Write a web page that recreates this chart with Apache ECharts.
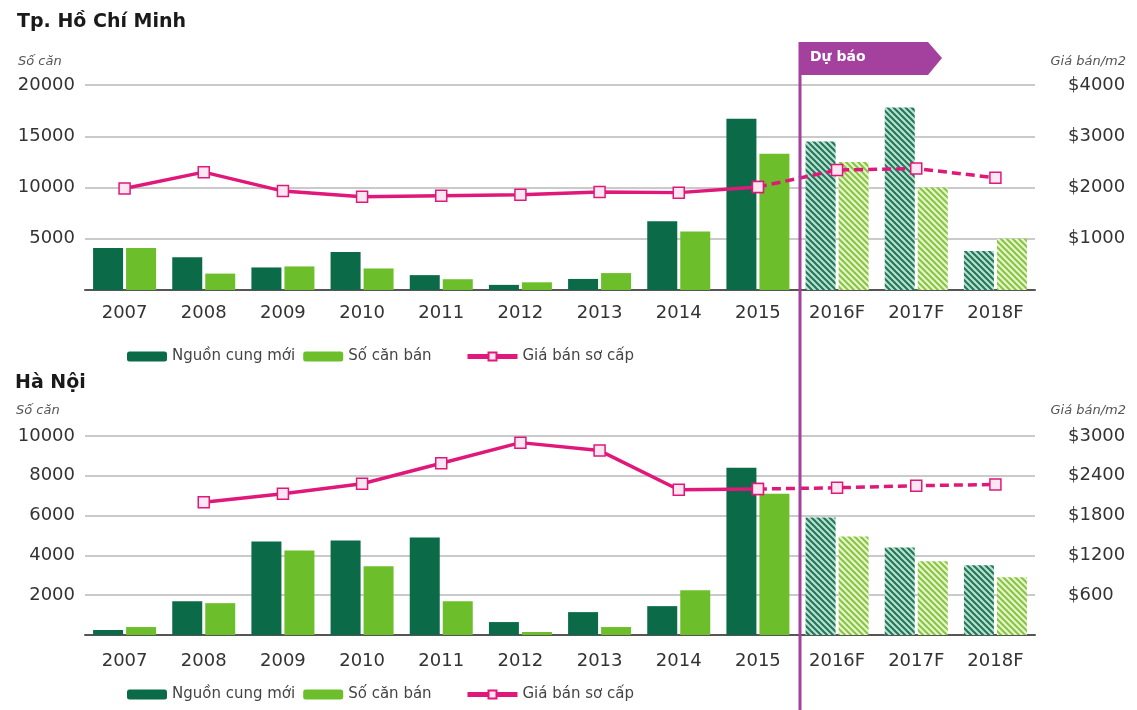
<!DOCTYPE html>
<html>
<head>
<meta charset="utf-8">
<script src="https://cdn.jsdelivr.net/npm/echarts@6/dist/echarts.min.js"></script>
<style>
  html, body { margin: 0; padding: 0; background: #fff; }
  #chart { width: 1137px; height: 710px; }
</style>
</head>
<body>
<div id="chart"></div>
<script>
// data
var years = ['2007', '2008', '2009', '2010', '2011', '2012', '2013', '2014', '2015', '2016F', '2017F', '2018F'];
var firstForecast = 9; // 2016F

var hcmSupply = [4100, 3200, 2200, 3700, 1450, 500, 1080, 6700, 16700, 14500, 17800, 3800];
var hcmSold   = [4100, 1600, 2300, 2100, 1050, 750, 1650, 5700, 13300, 12500, 10000, 5000];
var hcmPrice  = [1980, 2300, 1930, 1820, 1840, 1860, 1910, 1900, 2010, 2340, 2370, 2190];

var hnSupply = [250, 1700, 4700, 4750, 4900, 650, 1150, 1450, 8400, 5900, 4400, 3500];
var hnSold   = [400, 1600, 4250, 3450, 1700, 150, 400, 2250, 7100, 4950, 3700, 2900];
var hnPrice  = [null, 2000, 2130, 2280, 2590, 2900, 2780, 2190, 2200, 2220, 2250, 2270];

var hcmLeftTicks = [0, 20000, 5000];   // min, max, interval
var hcmRightTicks = [0, 4000, 1000];
var hnLeftTicks = [0, 10000, 2000];
var hnRightTicks = [0, 3000, 600];

var DARK = '#0b6a47', LIGHT = '#6cbf2b', PINK = '#e0187a', PURPLE = '#a4409e';
var FONT = '"DejaVu Sans", "Liberation Sans", sans-serif';

// striped fill for forecast bars
function stripes(bg, fg) {
  var c = document.createElement('canvas');
  c.width = 6; c.height = 6;
  var g = c.getContext('2d');
  g.fillStyle = bg;
  g.fillRect(0, 0, 6, 6);
  g.strokeStyle = fg;
  g.lineWidth = 2;
  g.beginPath();
  g.moveTo(-6, 0); g.lineTo(6, 12);
  g.moveTo(0, 0); g.lineTo(6, 6);
  g.moveTo(0, -6); g.lineTo(12, 6);
  g.stroke();
  return { image: c, repeat: 'repeat' };
}
var darkHatch = stripes('#b9e0cf', '#1f7658');
var lightHatch = stripes('#e6f4cc', '#86c442');

function barData(values, hatch) {
  return values.map(function (v, i) {
    return i >= firstForecast ? { value: v, itemStyle: { color: hatch } } : v;
  });
}
function actual(values) {
  return values.map(function (v, i) { return i <= firstForecast - 1 ? v : null; });
}
function forecast(values) {
  return values.map(function (v, i) { return i >= firstForecast - 1 ? v : null; });
}

function valueAxis(grid, ticks, right) {
  return {
    type: 'value', gridIndex: grid, min: ticks[0], max: ticks[1], interval: ticks[2],
    position: right ? 'right' : 'left',
    axisLine: { show: false }, axisTick: { show: false },
    splitLine: { show: !right, lineStyle: { color: '#b8b8b8', width: 1.5 } },
    axisLabel: {
      fontFamily: FONT, fontSize: 18, color: '#333', margin: right ? 33 : 10,
      formatter: function (v) { return v === 0 ? '' : (right ? '$' + v : v); }
    }
  };
}
function catAxis(grid, margin) {
  return {
    type: 'category', gridIndex: grid, data: years,
    axisTick: { show: false },
    axisLine: { lineStyle: { color: '#555', width: 2 } },
    axisLabel: { fontFamily: FONT, fontSize: 18, color: '#333', margin: margin }
  };
}

var lineStyleBase = {
  type: 'line', symbol: 'rect', symbolSize: 11,
  itemStyle: { color: '#fbe6f1', borderColor: PINK, borderWidth: 1.5 },
  z: 5
};
function lineSeries(name, data, axisIdx, dashed) {
  return Object.assign({}, lineStyleBase, {
    name: name, data: data, xAxisIndex: axisIdx, yAxisIndex: axisIdx * 2 + 1,
    lineStyle: { color: PINK, width: 3.5, type: dashed ? [9, 5] : 'solid' }
  });
}
function barSeries(name, data, color, axisIdx) {
  return {
    name: name, type: 'bar', data: data, xAxisIndex: axisIdx, yAxisIndex: axisIdx * 2,
    barWidth: 30, barGap: '10%', itemStyle: { color: color }
  };
}

var names = ['Nguồn cung mới', 'Số căn bán', 'Giá bán sơ cấp'];
function legend(top, left, items, w) {
  return {
    top: top, left: left, data: items, itemWidth: w, itemHeight: 10, itemGap: 8,
    lineStyle: { width: 5 },
    textStyle: { fontFamily: FONT, fontSize: 15, color: '#444' }
  };
}
function label(text, pos, top, style) {
  return Object.assign({ text: text, top: top, textStyle: Object.assign({ fontFamily: FONT }, style) }, pos);
}
var bold = { fontSize: 19, fontWeight: 'bold', color: '#1a1a1a' };
var ital = { fontSize: 13, fontStyle: 'italic', fontWeight: 'normal', color: '#555' };

var option = {
  animation: false,
  title: [
    label('Tp. Hồ Chí Minh', { left: 12 }, 8, bold),
    label('Số căn', { left: 13 }, 50, ital),
    label('Giá bán/m2', { right: 6 }, 50, ital),
    label('Hà Nội', { left: 10 }, 369, bold),
    label('Số căn', { left: 11 }, 399, ital),
    label('Giá bán/m2', { right: 6 }, 399, ital)
  ],
  legend: [
    legend(344, 122, names.slice(0, 2), 40), legend(344, 460, names.slice(2), 50),
    legend(682, 122, names.slice(0, 2), 40), legend(682, 460, names.slice(2), 50)
  ],
  grid: [
    { left: 85, right: 102, top: 85, height: 205 },
    { left: 85, right: 102, top: 436, height: 199 }
  ],
  xAxis: [catAxis(0, 14), catAxis(1, 17)],
  yAxis: [
    valueAxis(0, hcmLeftTicks, false), valueAxis(0, hcmRightTicks, true),
    valueAxis(1, hnLeftTicks, false), valueAxis(1, hnRightTicks, true)
  ],
  series: [
    barSeries(names[0], barData(hcmSupply, darkHatch), DARK, 0),
    barSeries(names[1], barData(hcmSold, lightHatch), LIGHT, 0),
    lineSeries(names[2], actual(hcmPrice), 0, false),
    lineSeries(names[2], forecast(hcmPrice), 0, true),
    barSeries(names[0], barData(hnSupply, darkHatch), DARK, 1),
    barSeries(names[1], barData(hnSold, lightHatch), LIGHT, 1),
    lineSeries(names[2], actual(hnPrice), 1, false),
    lineSeries(names[2], forecast(hnPrice), 1, true)
  ]
};

var myChart = echarts.init(document.getElementById('chart'), null, { renderer: 'canvas' });
myChart.setOption(option);

// forecast divider + flag, placed between 2015 and 2016F
var xa = myChart.convertToPixel({ xAxisIndex: 0 }, years[firstForecast - 1]);
var xb = myChart.convertToPixel({ xAxisIndex: 0 }, years[firstForecast]);
var x = Math.round((xa + xb) / 2) + 2;
myChart.setOption({
  graphic: [
    { type: 'line', shape: { x1: x, y1: 42, x2: x, y2: 710 }, style: { stroke: PURPLE, lineWidth: 3 }, z: 100 },
    { type: 'polygon', shape: { points: [[x - 1, 42], [x + 128, 42], [x + 142, 58], [x + 128, 75], [x - 1, 75]] },
      style: { fill: PURPLE }, z: 100 },
    { type: 'text', left: x + 10, top: 50, style: { text: 'Dự báo', fill: '#fff', font: 'bold 14px ' + FONT }, z: 101 }
  ]
});
</script>
</body>
</html>
